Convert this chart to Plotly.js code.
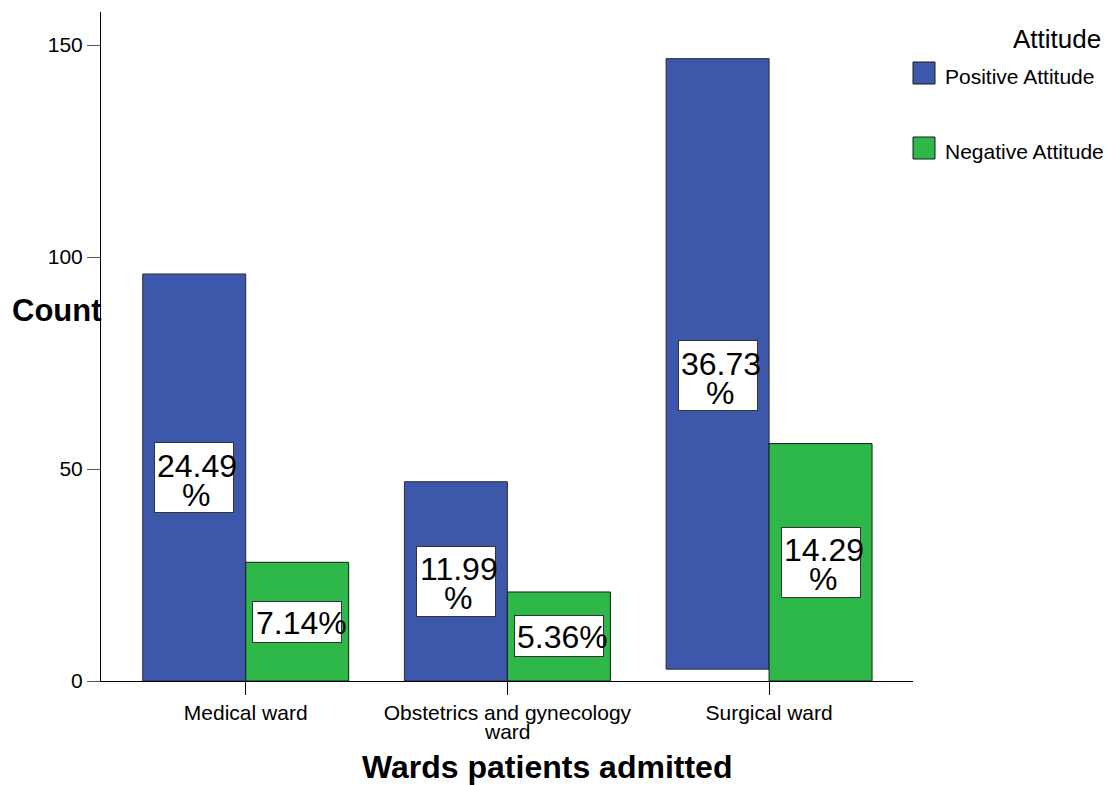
<!DOCTYPE html>
<html>
<head>
<meta charset="utf-8">
<script src="https://cdn.plot.ly/plotly-3.0.1.min.js"></script>
<style>html,body{margin:0;padding:0;background:#fff;}#chart{width:1107px;height:785px;}</style>
</head>
<body>
<div id="chart"></div>
<script>
// ---- data ----
const wards = ['Medical ward', 'Obstetrics and gynecology ward', 'Surgical ward'];
const seriesNames = ['Positive Attitude', 'Negative Attitude'];
const positiveCounts = [96, 47, 144];
const negativeCounts = [28, 21, 56];
const positiveBase = [0, 0, 2.8];
const positiveLabels = ['24.49%', '11.99%', '36.73%'];
const negativeLabels = ['7.14%', '5.36%', '14.29%'];
const yTicks = [0, 50, 100, 150];

// ---- style ----
const FONT = 'Liberation Sans, Arial, sans-serif';
const BLUE = '#3d57aa';
const GREEN = '#2fb84a';
const W = 1107, H = 785;
const M = {l: 101, r: 194, t: 12, b: 104};
const PW = W - M.l - M.r, PH = H - M.t - M.b;
const px = x => (x - M.l) / PW;
const py = y => (H - M.b - y) / PH;
const BARGAP = 0.213;
const off = (1 - BARGAP) / 4;
const MAXLINE = 26;

const traces = [
  {type: 'bar', name: seriesNames[0], x: wards, y: positiveCounts, base: positiveBase,
   marker: {color: BLUE, line: {color: '#2a2a3a', width: 1}}, showlegend: false, hoverinfo: 'skip'},
  {type: 'bar', name: seriesNames[1], x: wards, y: negativeCounts,
   marker: {color: GREEN, line: {color: '#1a1a1a', width: 1}}, showlegend: false, hoverinfo: 'skip'}
];

const annotations = [];
const boxes = [];
const texts = [];
function addLabels(counts, labels, dx) {
  counts.forEach((v, i) => {
    const lab = labels[i];
    const twoLine = lab.length > 5;
    const xv = i + dx, yv = v / 2;
    boxes.push({x: xv, y: yv, xref: 'x', yref: 'y', text: ' ', showarrow: false,
      width: twoLine ? 78 : 88, height: twoLine ? 69 : 40, borderpad: 0, borderwidth: 1,
      bordercolor: '#333', bgcolor: '#ffffff', xanchor: 'center', yanchor: 'middle'});
    const f = {family: FONT, size: 32, color: '#000'};
    if (twoLine) {
      texts.push({x: xv, y: yv, xref: 'x', yref: 'y', text: lab.slice(0, -1), showarrow: false,
        font: f, xanchor: 'center', yanchor: 'middle', xshift: 3, yshift: 12});
      texts.push({x: xv, y: yv, xref: 'x', yref: 'y', text: '%', showarrow: false,
        font: f, xanchor: 'center', yanchor: 'middle', xshift: 2, yshift: -17});
    } else {
      texts.push({x: xv, y: yv, xref: 'x', yref: 'y', text: lab, showarrow: false,
        font: f, xanchor: 'center', yanchor: 'middle', xshift: 4, yshift: -1});
    }
  });
}
addLabels(positiveCounts, positiveLabels, -off);
addLabels(negativeCounts, negativeLabels, off);
annotations.push(...boxes, ...texts);

// wrapped tick labels: first line as tick text, rest as a tight second line
const tickText = wards.map((w, i) => {
  if (w.length <= MAXLINE) return w;
  const cut = w.lastIndexOf(' ', MAXLINE);
  annotations.push({xref: 'x', yref: 'paper', x: i, y: py(731), text: w.slice(cut + 1), showarrow: false,
    xanchor: 'center', yanchor: 'middle', font: {family: FONT, size: 21, color: '#000'}});
  return w.slice(0, cut);
});

// axis titles
annotations.push({xref: 'paper', yref: 'paper', x: px(57), y: py(310), text: '<b>Count</b>',
  showarrow: false, xanchor: 'center', yanchor: 'middle', font: {family: FONT, size: 31, color: '#000'}});
annotations.push({xref: 'paper', yref: 'paper', x: px(547), y: py(767), text: '<b>Wards patients admitted</b>',
  showarrow: false, xanchor: 'center', yanchor: 'middle', font: {family: FONT, size: 32, color: '#000'}});

// legend
annotations.push({xref: 'paper', yref: 'paper', x: px(1103), y: py(39), text: 'Attitude',
  showarrow: false, xanchor: 'right', yanchor: 'middle', font: {family: FONT, size: 26, color: '#000'}});
const legendRows = [{name: seriesNames[0], color: BLUE, top: 62}, {name: seriesNames[1], color: GREEN, top: 137}];
const shapes = [];
legendRows.forEach(r => {
  shapes.push({type: 'rect', xref: 'paper', yref: 'paper', x0: px(913), x1: px(935), y0: py(r.top), y1: py(r.top + 22),
    fillcolor: r.color, line: {color: '#1a1a1a', width: 1}});
  annotations.push({xref: 'paper', yref: 'paper', x: px(943), y: py(r.top + 15), text: r.name,
    showarrow: false, xanchor: 'left', yanchor: 'middle', font: {family: FONT, size: 21, color: '#000'}});
});

const layout = {
  width: W, height: H,
  margin: M,
  paper_bgcolor: '#fff', plot_bgcolor: '#fff',
  barmode: 'group', bargap: BARGAP, bargroupgap: 0,
  font: {family: FONT, size: 21, color: '#000'},
  showlegend: false,
  xaxis: {type: 'category', range: [-0.553, 2.55], showline: true, linecolor: '#000', linewidth: 1,
    tickvals: wards, ticktext: tickText,
    ticks: 'outside', ticklen: 13, tickcolor: '#000', tickwidth: 1, showgrid: false, zeroline: false,
    tickfont: {family: FONT, size: 21, color: '#000'}, fixedrange: true},
  yaxis: {range: [0, 157.8], tickvals: yTicks, ticktext: yTicks.map(String), showline: true, linecolor: '#000',
    linewidth: 1, ticks: 'outside', ticklen: 13, tickcolor: '#555', tickwidth: 1, showgrid: false, zeroline: false,
    tickfont: {family: FONT, size: 21, color: '#000'}, fixedrange: true},
  annotations: annotations,
  shapes: shapes
};

Plotly.newPlot('chart', traces, layout, {displayModeBar: false, staticPlot: true});
</script>
</body>
</html>
